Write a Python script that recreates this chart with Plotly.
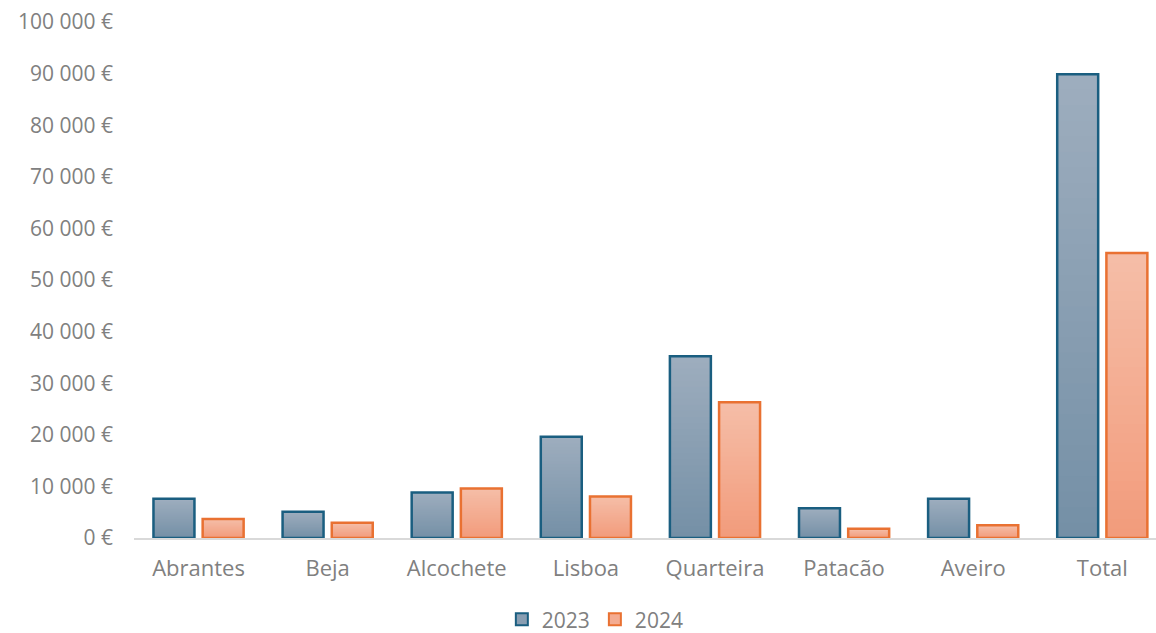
import plotly.graph_objects as go

# Data
categories = ["Abrantes", "Beja", "Alcochete", "Lisboa", "Quarteira", "Patacão", "Aveiro", "Total"]
values_2023 = [7600, 5100, 8800, 19600, 35200, 5750, 7600, 89850]
values_2024 = [3700, 2950, 9600, 8050, 26300, 1800, 2450, 55250]
series_names = ["2023", "2024"]
y_tick_values = [0, 10000, 20000, 30000, 40000, 50000, 60000, 70000, 80000, 90000, 100000]
y_tick_labels = ["0 €", "10 000 €", "20 000 €", "30 000 €", "40 000 €", "50 000 €",
                 "60 000 €", "70 000 €", "80 000 €", "90 000 €", "100 000 €"]

# Styles: (border colour, gradient top, gradient bottom)
styles = {
    "2023": ("#1a5e80", (158, 174, 190), (116, 143, 166)),
    "2024": ("#e97132", (245, 190, 168), (242, 155, 123)),
}
N_STEPS = 30
FONT = "Open Sans, Liberation Sans, sans-serif"
GREY = "#808080"


def mix(c_top, c_bot, t):
    # t = 0 -> bottom, t = 1 -> top
    return "rgb(%d,%d,%d)" % tuple(round(b + (a - b) * t) for a, b in zip(c_top, c_bot))


fig = go.Figure()

for name, vals in zip(series_names, [values_2023, values_2024]):
    border, top, bot = styles[name]
    # vertical gradient: stacked overlapping slices from bottom to top
    for i in range(N_STEPS):
        frac = i / N_STEPS
        fig.add_trace(go.Bar(
            x=categories,
            y=[v * (1 - frac) for v in vals],
            base=[v * frac for v in vals],
            offsetgroup=name,
            marker=dict(color=mix(top, bot, frac + 0.5 / N_STEPS), line=dict(width=0)),
            showlegend=False,
            hoverinfo="skip",
        ))
    # outline
    fig.add_trace(go.Bar(
        x=categories,
        y=vals,
        offsetgroup=name,
        name=name,
        marker=dict(color="rgba(0,0,0,0)", line=dict(color=border, width=2.5)),
        showlegend=False,
    ))
    # legend entry
    fig.add_trace(go.Bar(
        x=[categories[0]],
        y=[None],
        offsetgroup=name,
        name=name,
        marker=dict(color=mix(top, bot, 0.5), line=dict(color=border, width=2)),
        showlegend=True,
    ))

fig.update_layout(
    width=1156,
    height=633,
    margin=dict(l=134, r=0, t=22, b=95),
    paper_bgcolor="white",
    plot_bgcolor="white",
    barmode="group",
    bargap=0.238,
    bargroupgap=0.167,
    font=dict(family=FONT, color=GREY, size=21),
    legend=dict(
        orientation="h",
        xref="container", yref="container",
        x=0.515, xanchor="center",
        y=0.021, yanchor="middle",
        font=dict(size=21, color=GREY),
        itemwidth=30,
        traceorder="normal",
    ),
    xaxis=dict(
        type="category",
        range=[-0.5, 7.416],
        showline=True,
        linecolor="#d9d9d9",
        linewidth=1.5,
        showgrid=False,
        ticks="",
        tickfont=dict(size=22, color=GREY),
        ticklabelstandoff=10,
    ),
    yaxis=dict(
        range=[0, 100000],
        tickvals=y_tick_values,
        ticktext=y_tick_labels,
        showgrid=False,
        zeroline=False,
        showline=False,
        ticks="",
        tickfont=dict(size=21, color=GREY),
        ticklabelstandoff=20,
    ),
)

fig.write_html("out.html")
